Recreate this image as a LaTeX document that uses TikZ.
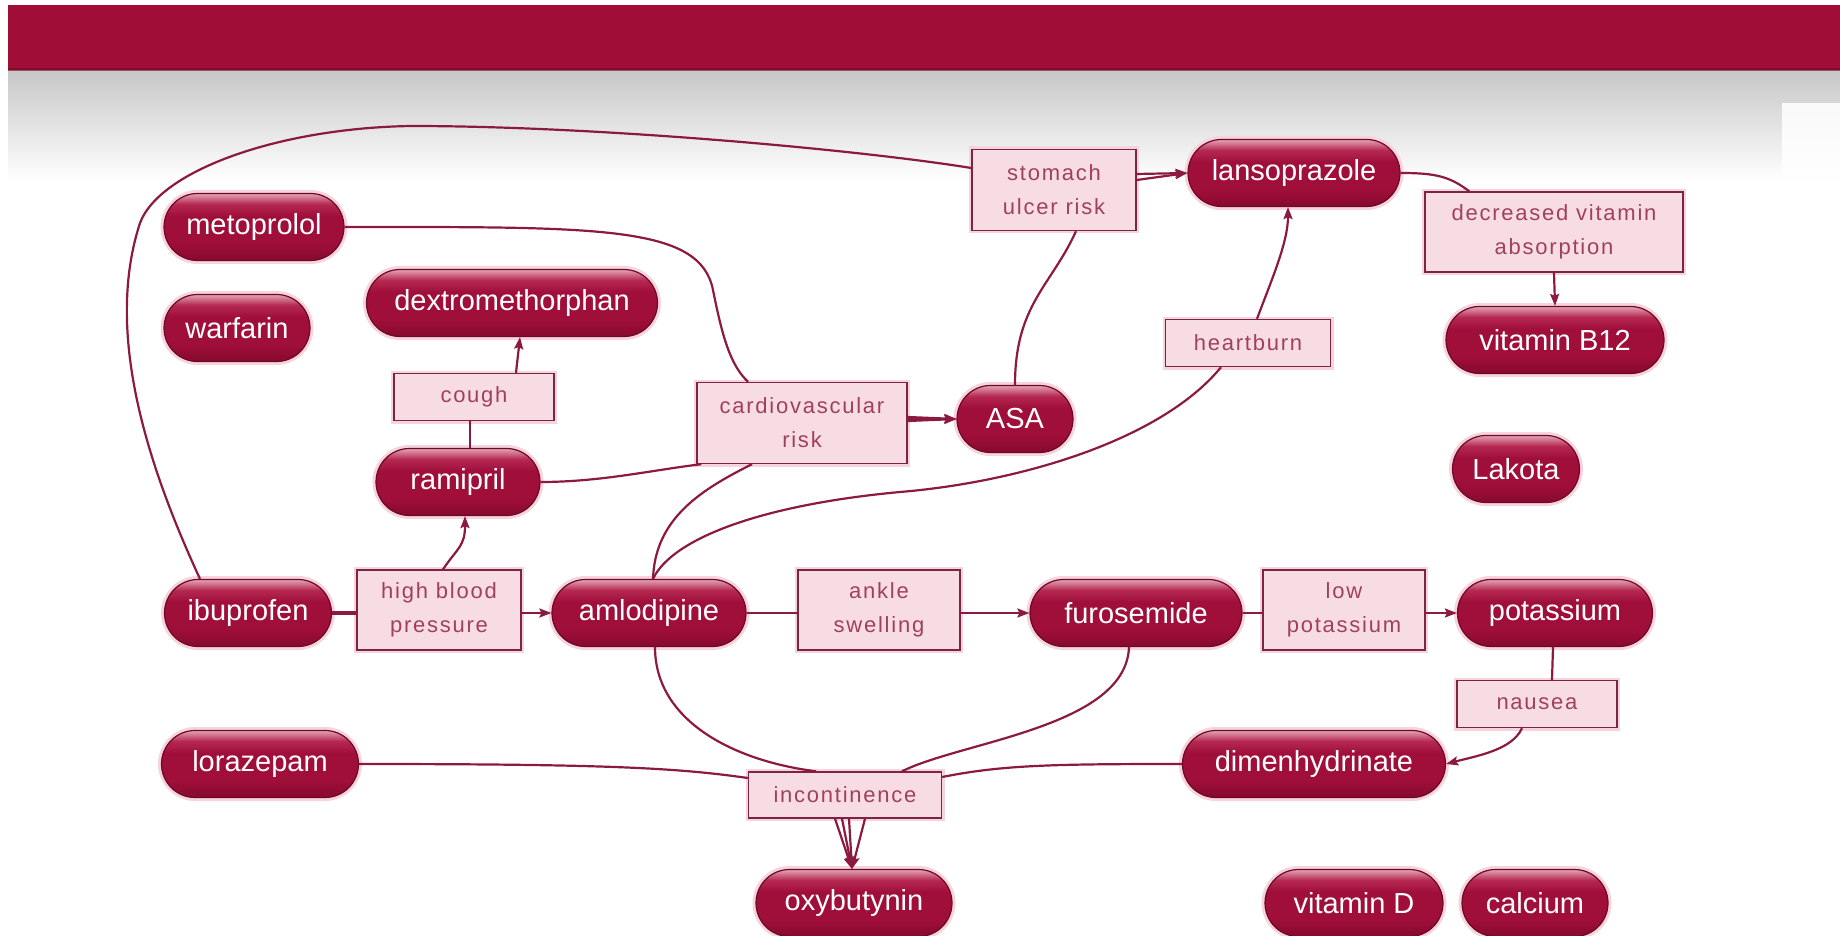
\documentclass[tikz,border=0pt]{standalone}
\usepackage{fontspec}
\setmainfont{Liberation Sans}
\newfontfamily\pillfont{Liberation Sans}
\newfontfamily\boxfont{Liberation Sans}[LetterSpace=8]
\usetikzlibrary{shapes.misc,arrows.meta,calc}

\definecolor{barred}{HTML}{A00E38}
\definecolor{pbot}{HTML}{860A2D}
\definecolor{pdark}{HTML}{A00E3A}
\definecolor{pmid}{HTML}{B52852}
\definecolor{ptop}{HTML}{E3A4B4}
\definecolor{pedge}{HTML}{6E0826}
\definecolor{boxfill}{HTML}{F8DCE4}
\definecolor{boxedge}{HTML}{7C2442}
\definecolor{boxtext}{HTML}{A0405F}
\definecolor{wire}{HTML}{8C1A40}
\definecolor{halo}{HTML}{F6D4DD}

% glossy fill of the drug pills (25bp..75bp spans the pill)
\pgfdeclareverticalshading{pillgloss}{100bp}{color(0bp)=(pbot); color(25bp)=(pbot); color(38bp)=(pdark); color(58bp)=(pdark); color(67bp)=(pmid); color(75bp)=(ptop); color(100bp)=(ptop)}

\begin{document}
\begin{tikzpicture}[x=1pt,y=-1pt,
  pill/.style={shape=rounded rectangle, shade, shading=pillgloss, draw=pedge, line width=1.2pt,
    minimum height=67pt, inner sep=0pt, text=white,
    font=\pillfont\fontsize{29}{34}\selectfont,
    preaction={draw=halo, line width=7pt}},
  effect/.style={rectangle, fill=boxfill, draw=boxedge, line width=1.4pt, text=boxtext,
    align=center, inner sep=0pt, font=\boxfont\fontsize{22}{34}\selectfont,
    preaction={draw=halo, line width=6pt}},
  conn/.style={draw=wire, line width=2.2pt},
  arr/.style={conn, -{Stealth[length=12pt,width=9pt,inset=2pt]}}
]
\useasboundingbox (0,0) rectangle (1840,936);
\fill[white] (0,0) rectangle (1840,936);

% header band with its soft grey fade
\shade[top color=black!22, bottom color=white] (8,70) rectangle (1840,180);
\fill[white, opacity=0.85] (1782,103) rectangle (1840,200);
\fill[barred] (8,5) rectangle (1840,70);
\fill[barred!70!black, opacity=0.6] (8,68) rectangle (1840,71);

% drugs
\node[pill, minimum width=180pt] (met) at (254,227) {metoprolol};
\node[pill, minimum width=146pt] (war) at (237,328) {warfarin};
\node[pill, minimum width=291pt] (dex) at (512,303) {dextromethorphan};
\node[pill, minimum width=164pt] (ram) at (458,482) {ramipril};
\node[pill, minimum width=167pt] (ibu) at (248,613) {ibuprofen};
\node[pill, minimum width=194pt] (aml) at (649,613) {amlodipine};
\node[pill, minimum width=212pt] (fur) at (1136,613) {furosemide};
\node[pill, minimum width=195pt] (pot) at (1555,613) {potassium};
\node[pill, minimum width=116pt] (asa) at (1015,419) {ASA};
\node[pill, minimum width=212pt] (lan) at (1294,173) {lansoprazole};
\node[pill, minimum width=218pt] (b12) at (1555,340) {vitamin B12};
\node[pill, minimum width=127pt] (lak) at (1516,469) {Lakota};
\node[pill, minimum width=197pt] (lor) at (260,764) {lorazepam};
\node[pill, minimum width=263pt] (dim) at (1314,764) {dimenhydrinate};
\node[pill, minimum width=196pt] (oxy) at (854,903) {oxybutynin};
\node[pill, minimum width=178pt] (vitd) at (1354,903) {vitamin D};
\node[pill, minimum width=146pt] (cal) at (1535,903) {calcium};

% effects
\node[effect, minimum width=164pt, minimum height=81pt] (sur) at (1054,190) {stomach\\ulcer risk};
\node[effect, minimum width=258pt, minimum height=80pt] (dva) at (1554,232) {decreased vitamin\\absorption};
\node[effect, minimum width=165pt, minimum height=47pt] (hb) at (1248,343) {heartburn};
\node[effect, minimum width=160pt, minimum height=47pt] (cough) at (474,397) {cough};
\node[effect, minimum width=210pt, minimum height=81pt] (cvr) at (802,423) {cardiovascular\\risk};
\node[effect, minimum width=164pt, minimum height=80pt] (hbp) at (439,610) {high blood\\pressure};
\node[effect, minimum width=162pt, minimum height=80pt] (ank) at (879,610) {ankle\\swelling};
\node[effect, minimum width=162pt, minimum height=80pt] (lowk) at (1344,610) {low\\potassium};
\node[effect, minimum width=160pt, minimum height=47pt] (nau) at (1537,704) {nausea};
\node[effect, minimum width=193pt, minimum height=46pt] (inc) at (845,795) {incontinence};

% bends of the long ibuprofen wire
\coordinate (bendL) at (140,223);
\coordinate (bendT) at (411,126);

% ibuprofen / ASA -> stomach ulcer risk -> lansoprazole
\draw[conn] ($(ibu.north)+(-48,0)$) .. controls (145,460) and (105,330) .. (bendL)
  .. controls (160,170) and (280,128) .. (bendT)
  .. controls (600,126) and (860,150) .. ($(sur.west)+(0,-22)$);
\draw[conn] (asa.north) .. controls +(0,-80) and +(-25,55) .. ($(sur.south)+(22,0)$);
\draw[arr] ($(sur.east)+(0,-16)$) -- (lan.west);
\draw[arr] ($(sur.east)+(0,-10)$) -- (lan.west);

% lansoprazole -> decreased vitamin absorption -> vitamin B12
\draw[conn] (lan.east) .. controls +(35,0) and +(-20,-15) .. ($(dva.north west)+(45,0)$);
\draw[arr] (dva.south) -- (b12.north);

% amlodipine -> heartburn -> lansoprazole
\draw[conn] ($(aml.north)+(4,0)$) .. controls +(19,-40) and +(-140,13) .. (900,492)
  .. controls +(120,-10) and +(-60,73) .. ($(hb.south)+(-27,0)$);
\draw[arr] ($(hb.north)+(9,0)$) .. controls +(15,-40) and +(0,35) .. ($(lan.south)+(-6,0)$);

% metoprolol / ramipril / amlodipine -> cardiovascular risk -> ASA
\draw[conn] (met.east) .. controls (600,227) and (700,225) .. (713,290)
  .. controls (722,335) and (730,365) .. ($(cvr.north)+(-54,0)$);
\draw[conn] (ram.east) .. controls +(60,0) and +(-50,6) .. ($(cvr.south west)+(5,0)$);
\draw[conn] ($(aml.north)+(4,0)$) .. controls +(2,-60) and +(-52,26) .. ($(cvr.south)+(-50,0)$);
\draw[arr] ($(cvr.east)+(0,-6)$) -- (asa.west);
\draw[arr] ($(cvr.east)+(0,-4)$) -- (asa.west);
\draw[arr] ($(cvr.east)+(0,-2)$) -- (asa.west);

% ibuprofen -> high blood pressure -> amlodipine / ramipril
\draw[conn] ($(ibu.east)+(0,-1)$) -- ($(ibu.east -| hbp.west)+(0,-1)$);
\draw[conn] ($(ibu.east)+(0,1)$) -- ($(ibu.east -| hbp.west)+(0,1)$);
\draw[arr] (aml.west -| hbp.east) -- (aml.west);
\draw[arr] ($(hbp.north)+(4,0)$) .. controls +(15,-22) and +(0,30) .. ($(ram.south)+(7,0)$);

% ramipril -> cough -> dextromethorphan
\draw[conn] ($(ram.north)+(12,0)$) -- ($(cough.south)+(-4,0)$);
\draw[arr] ($(cough.north)+(42,0)$) -- ($(dex.south)+(8,0)$);

% amlodipine -> ankle swelling -> furosemide -> low potassium -> potassium
\draw[conn] (aml.east) -- (aml.east -| ank.west);
\draw[arr] (fur.west -| ank.east) -- (fur.west);
\draw[conn] (fur.east) -- (fur.east -| lowk.west);
\draw[arr] (pot.west -| lowk.east) -- (pot.west);

% potassium -> nausea -> dimenhydrinate
\draw[conn] ($(pot.south)+(-2,0)$) -- ($(nau.north)+(15,0)$);
\draw[arr] ($(nau.south)+(-15,0)$) .. controls +(-10,22) and +(30,-8) .. (dim.east);

% four routes into incontinence -> oxybutynin
\draw[conn] ($(aml.south)+(6,0)$) .. controls +(0,75) and +(-80,-10) .. ($(inc.north)+(-29,0)$);
\draw[conn] ($(fur.south)+(-7,0)$) .. controls +(-3,80) and +(60,-30) .. ($(inc.north)+(57,0)$);
\draw[conn] (lor.east) .. controls +(250,0) and +(-70,-10) .. ($(inc.west)+(0,-17)$);
\draw[conn] (dim.west) .. controls +(-130,0) and +(60,-12) .. ($(inc.east)+(0,-18)$);
\draw[arr] ($(inc.south)+(-10,0)$) -- ($(oxy.north)+(-2,0)$);
\draw[arr] ($(inc.south)+(-3,0)$) -- ($(oxy.north)+(-2,0)$);
\draw[arr] ($(inc.south)+(4,0)$) -- ($(oxy.north)+(-2,0)$);
\draw[arr] ($(inc.south)+(20,0)$) -- ($(oxy.north)+(-2,0)$);
\end{tikzpicture}
\end{document}
